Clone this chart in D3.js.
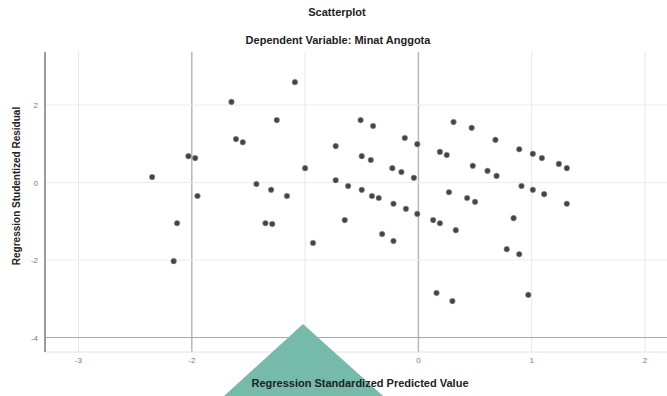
<!DOCTYPE html>
<html>
<head>
<meta charset="utf-8">
<script src="https://cdn.jsdelivr.net/npm/d3@7/dist/d3.min.js"></script>
<style>
  html, body { margin: 0; padding: 0; background: #fff; }
  svg { display: block; font-family: "Liberation Sans", Arial, sans-serif; }
</style>
</head>
<body>
<svg id="chart" width="667" height="396"></svg>
<script>
// Regression Standardized Predicted Value (x) vs Studentized Residual (y)
const predicted = [
  -2.35, -2.13, -2.16, -2.03, -1.97, -1.95, -1.65, -1.61, -1.55, -1.25,
  -1.09, -1.43, -1.30, -1.16, -1.35, -1.29, -1.00, -0.93, -0.73, -0.73,
  -0.62, -0.65, -0.51, -0.40, -0.50, -0.42, -0.50, -0.41, -0.35, -0.22,
  -0.11, -0.01, 0.13, 0.19, 0.33, -0.32, -0.22, -0.23, -0.15, -0.04,
  -0.12, -0.01, 0.31, 0.47, 0.19, 0.25, 0.48, 0.61, 0.69, 0.27,
  0.43, 0.50, 0.68, 0.89, 1.01, 1.09, 1.24, 1.31, 0.91, 1.01,
  1.11, 1.31, 0.84, 0.78, 0.89, 0.16, 0.30, 0.97
];
const residual = [
  0.14, -1.05, -2.03, 0.68, 0.63, -0.35, 2.08, 1.12, 1.04, 1.61,
  2.59, -0.04, -0.19, -0.35, -1.05, -1.07, 0.37, -1.56, 0.94, 0.06,
  -0.09, -0.97, 1.61, 1.46, 0.68, 0.58, -0.19, -0.35, -0.40, -0.55,
  -0.68, -0.81, -0.97, -1.05, -1.23, -1.33, -1.51, 0.37, 0.27, 0.12,
  1.15, 0.99, 1.56, 1.41, 0.79, 0.71, 0.43, 0.30, 0.17, -0.25,
  -0.40, -0.50, 1.10, 0.86, 0.74, 0.63, 0.48, 0.37, -0.09, -0.19,
  -0.30, -0.55, -0.92, -1.72, -1.85, -2.85, -3.06, -2.90
];
const xTicks = [-3, -2, -1, 0, 1, 2];
const yTicks = [2, 0, -2, -4];
const titleText = "Scatterplot";
const subtitleText = "Dependent Variable: Minat Anggota";
const xTitle = "Regression Standardized Predicted Value";
const yTitle = "Regression Studentized Residual";

const svg = d3.select("#chart");
const plotL = 45, plotR = 667, plotT = 52, plotB = 352;

const x = d3.scaleLinear().domain([-3, 2]).range([78.5, 645]);
const y = d3.scaleLinear().domain([-4, 2]).range([337.5, 105]);

const g = svg.append("g");

// vertical gridlines
g.append("g").selectAll("line").data(xTicks).join("line")
  .attr("x1", d => x(d)).attr("x2", d => x(d))
  .attr("y1", plotT).attr("y2", plotB)
  .attr("stroke", d => (d === -2 || d === 0) ? "#b8b8b8" : "#e6e6e6")
  .attr("stroke-width", d => (d === -2 || d === 0) ? 1.5 : 1);

// horizontal gridlines
g.append("g").selectAll("line").data(yTicks).join("line")
  .attr("x1", plotL).attr("x2", plotR)
  .attr("y1", d => y(d)).attr("y2", d => y(d))
  .attr("stroke", d => d === -4 ? "#a8a8a8" : "#ececec")
  .attr("stroke-width", d => d === -4 ? 1.2 : 1);

// bottom frame (faint)
g.append("line").attr("x1", plotL).attr("x2", plotR)
  .attr("y1", plotB).attr("y2", plotB).attr("stroke", "#e2e2e2");

// left axis line
g.append("line").attr("x1", plotL).attr("x2", plotL)
  .attr("y1", plotT).attr("y2", plotB)
  .attr("stroke", "#7a7a7a").attr("stroke-width", 1.5);

// y tick labels
g.append("g").selectAll("text").data(yTicks).join("text")
  .attr("x", plotL - 7).attr("y", d => y(d) + 3)
  .attr("text-anchor", "end").attr("font-size", 8).attr("fill", "#777")
  .text(d => d);

// x tick labels
g.append("g").selectAll("text").data(xTicks).join("text")
  .attr("x", d => x(d)).attr("y", 363)
  .attr("text-anchor", "middle").attr("font-size", 8).attr("fill", "#777")
  .text(d => d);

// points
const pts = predicted.map((v, i) => ({ px: v, ry: residual[i] }));
g.append("g").selectAll("circle").data(pts).join("circle")
  .attr("cx", d => x(d.px)).attr("cy", d => y(d.ry))
  .attr("r", 2.8)
  .attr("fill", "#444").attr("stroke", "#999").attr("stroke-width", 0.6);

// decorative teal triangle overlay at bottom
svg.append("polygon")
  .attr("points", "303,324 224,396 383,396")
  .attr("fill", "#76baaa");

// titles
svg.append("text").attr("x", 337).attr("y", 16).attr("text-anchor", "middle")
  .attr("font-size", 11).attr("font-weight", "bold").attr("fill", "#222").text(titleText);
svg.append("text").attr("x", 338).attr("y", 44).attr("text-anchor", "middle")
  .attr("font-size", 11).attr("font-weight", "bold").attr("fill", "#222").text(subtitleText);

svg.append("text").attr("x", 360).attr("y", 387).attr("text-anchor", "middle")
  .attr("font-size", 11).attr("font-weight", "bold").attr("fill", "#222").text(xTitle);

svg.append("text")
  .attr("transform", "translate(20,186) rotate(-90)")
  .attr("text-anchor", "middle")
  .attr("font-size", 10).attr("font-weight", "bold").attr("fill", "#222").text(yTitle);
</script>
</body>
</html>
